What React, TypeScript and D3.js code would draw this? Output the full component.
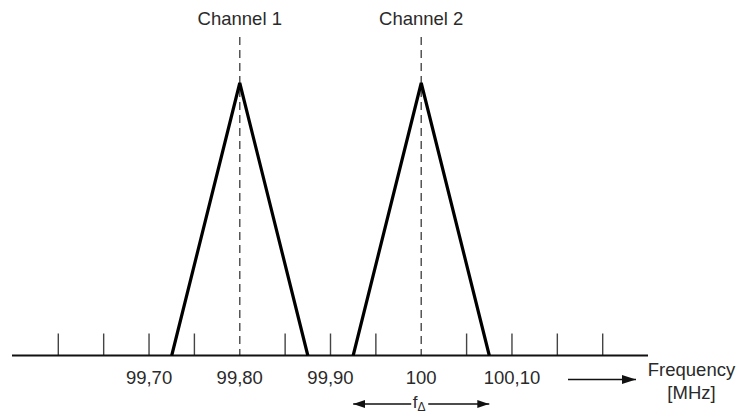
import React from "react";
import * as d3 from "d3";

// Frequency axis
const axisDomain = [99.6, 100.2];
const minorTicks = [99.6, 99.65, 99.7, 99.75, 99.85, 99.9, 99.95, 100.05, 100.1, 100.15, 100.2];
const labelValues = [99.7, 99.8, 99.9, 100, 100.1];
const labelTexts = ["99,70", "99,80", "99,90", "100", "100,10"];

// Channels (centre frequency, half bandwidth in MHz, relative peak level)
const channelNames = ["Channel 1", "Channel 2"];
const channelCenters = [99.8, 100.0];
const channelHalfWidth = 0.075;
const channelPeak = 1;

const W = 739;
const H = 414;
const FONT = "'Liberation Sans', Arial, Helvetica, sans-serif";
const TEXT = "#2a2a2a";

export default function App() {
  const x = d3.scaleLinear().domain(axisDomain).range([58.3, 602.7]);
  const y = d3.scaleLinear().domain([0, 1]).range([355.5, 83]);
  const baseY = y(0);

  const line = d3
    .line<[number, number]>()
    .x((d) => x(d[0]))
    .y((d) => y(d[1]));

  const deltaLeft = x(channelCenters[1] - channelHalfWidth);
  const deltaRight = x(channelCenters[1] + channelHalfWidth);
  const deltaMid = x(channelCenters[1]);
  const deltaY = 404;

  return (
    <svg
      width={W}
      height={H}
      style={{ position: "absolute", left: 0, top: 0, background: "#fff" }}
      fontFamily={FONT}
    >
      <defs>
        <marker id="head" viewBox="0 0 12 8" refX="12" refY="4" markerWidth="12" markerHeight="8" markerUnits="userSpaceOnUse" orient="auto-start-reverse">
          <path d="M0,0 L12,4 L0,8 Z" fill="#111" />
        </marker>
        <marker id="headBig" viewBox="0 0 14 9" refX="14" refY="4.5" markerWidth="14" markerHeight="9" markerUnits="userSpaceOnUse" orient="auto">
          <path d="M0,0 L14,4.5 L0,9 Z" fill="#111" />
        </marker>
      </defs>

      {/* minor ticks */}
      {minorTicks.map((t) => (
        <line key={t} x1={x(t)} x2={x(t)} y1={baseY} y2={baseY - 22} stroke="#444" strokeWidth={1.4} />
      ))}

      {/* channel centre lines */}
      {channelCenters.map((c) => (
        <line key={"d" + c} x1={x(c)} x2={x(c)} y1={37} y2={baseY} stroke="#555" strokeWidth={1.5} strokeDasharray="8 5" />
      ))}

      {/* axis baseline */}
      <line x1={12} x2={648} y1={baseY} y2={baseY} stroke="#111" strokeWidth={2} />

      {/* channel spectra */}
      {channelCenters.map((c) => (
        <path
          key={"t" + c}
          d={line([
            [c - channelHalfWidth, 0],
            [c, channelPeak],
            [c + channelHalfWidth, 0],
          ]) as string}
          fill="none"
          stroke="#000"
          strokeWidth={3.2}
          strokeLinejoin="miter"
        />
      ))}

      {/* channel titles */}
      {channelNames.map((n, i) => (
        <text key={n} x={x(channelCenters[i])} y={25} textAnchor="middle" fontSize={18.5} fill={TEXT}>
          {n}
        </text>
      ))}

      {/* frequency labels */}
      {labelValues.map((v, i) => (
        <text key={v} x={x(v)} y={384} textAnchor="middle" fontSize={18.5} fill={TEXT}>
          {labelTexts[i]}
        </text>
      ))}

      {/* axis title with arrow */}
      <line x1={568} x2={636} y1={379.5} y2={379.5} stroke="#111" strokeWidth={1.3} markerEnd="url(#headBig)" />
      <text x={691.5} y={376} textAnchor="middle" fontSize={18.5} fill={TEXT}>
        Frequency
      </text>
      <text x={691.5} y={399} textAnchor="middle" fontSize={18.5} fill={TEXT}>
        [MHz]
      </text>

      {/* channel spacing */}
      <line x1={deltaLeft} x2={deltaMid - 10} y1={deltaY} y2={deltaY} stroke="#111" strokeWidth={1.3} markerStart="url(#head)" />
      <line x1={deltaMid + 7} x2={deltaRight} y1={deltaY} y2={deltaY} stroke="#111" strokeWidth={1.3} markerEnd="url(#head)" />
      <text x={deltaMid - 8.5} y={408} fontSize={17} fill={TEXT}>
        f
        <tspan fontSize={12} dy={3}>Δ</tspan>
      </text>
    </svg>
  );
}
